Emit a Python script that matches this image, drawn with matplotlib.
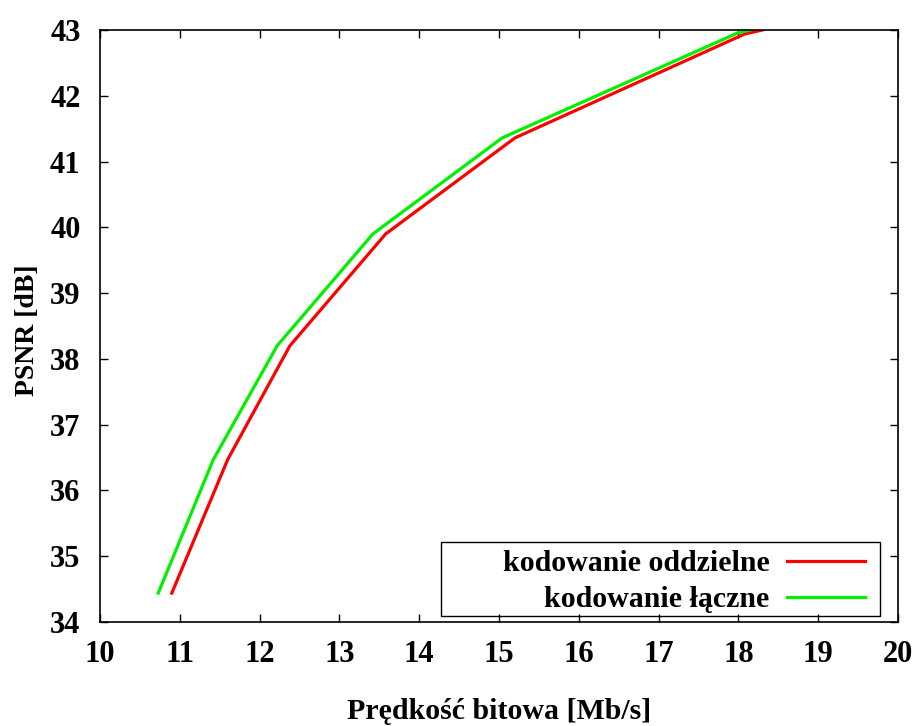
import matplotlib.pyplot as plt
from matplotlib.patches import Rectangle

# bitrate [Mb/s] and PSNR [dB]
rate_separate = [10.90, 11.60, 12.38, 13.58, 15.20, 18.08, 18.30]
psnr_separate = [34.44, 36.47, 38.20, 39.90, 41.36, 42.94, 43.00]
rate_joint = [10.73, 11.42, 12.22, 13.42, 15.04, 18.00, 18.15]
psnr_joint = [34.44, 36.47, 38.20, 39.90, 41.36, 42.96, 43.00]

labels = ["kodowanie oddzielne", "kodowanie łączne"]
xticks = list(range(10, 21))
yticks = list(range(34, 44))

plt.rcParams["font.family"] = ["Liberation Serif", "DejaVu Serif"]
plt.rcParams["font.weight"] = "bold"
plt.rcParams["font.size"] = 21.5

fig = plt.figure(figsize=(9.2, 7.26), dpi=100)
ax = fig.add_axes([100 / 920, 1 - 622 / 726, 798 / 920, 592 / 726])

ax.plot(rate_separate, psnr_separate, color="#ff0000", lw=2.3, label=labels[0])
ax.plot(rate_joint, psnr_joint, color="#00f000", lw=2.3, label=labels[1])

ax.set_xlim(10, 20)
ax.set_ylim(34, 43)
ax.set_xticks(xticks)
ax.set_yticks(yticks)
ax.tick_params(direction="in", length=6, width=1, top=True, right=True,
               labelsize=22)
ax.tick_params(axis="x", pad=13)
ax.tick_params(axis="y", pad=14)
for s in ax.spines.values():
    s.set_linewidth(1.2)

ax.set_xlabel("Prędkość bitowa [Mb/s]", fontweight="bold")
ax.set_ylabel("PSNR [dB]", fontweight="bold", fontsize=20)
ax.xaxis.set_label_coords(0.5, -0.128)
ax.yaxis.set_label_coords(-0.075, 0.493)

# gnuplot-style key box
ax.add_patch(Rectangle((0.427, 0.010), 0.550, 0.125, transform=ax.transAxes,
                       fill=False, edgecolor="black", lw=1, zorder=5))
ax.legend(loc="center right", bbox_to_anchor=(0.9586, 0.068), frameon=False,
          markerfirst=False, handlelength=2.6, handletextpad=0.6,
          labelspacing=0.3, borderaxespad=0, borderpad=0)

fig.savefig("out.png", dpi=100)
